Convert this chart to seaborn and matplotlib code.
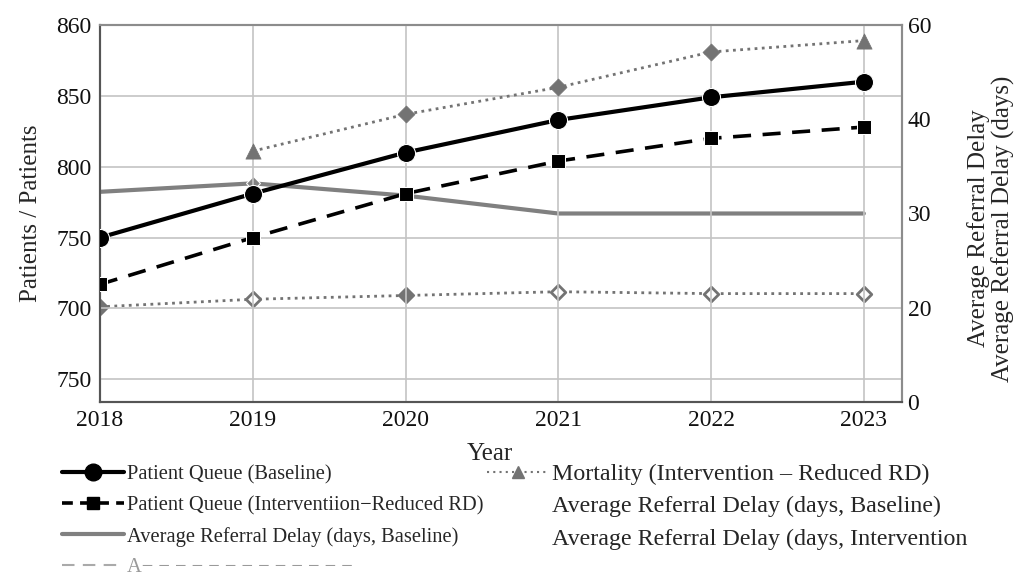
import numpy as np
import pandas as pd
import matplotlib
matplotlib.use("Agg")
import matplotlib.pyplot as plt
from matplotlib.lines import Line2D
import seaborn as sns

# ---- data ----
years = [2018, 2019, 2020, 2021, 2022, 2023]
queue_baseline = [750, 781, 810, 833, 849, 860]
queue_intervention = [717, 750, 781, 804, 820, 828]
mortality_years = [2019, 2020, 2021, 2022, 2023]
mortality_intervention = [811, 837, 856, 881, 889]
delay_baseline = [32.3, 33.2, 31.9, 30.0, 30.0, 30.0]
delay_intervention = [20.1, 20.9, 21.3, 21.7, 21.5, 21.5]

left_tick_values = [650, 700, 750, 800, 850, 900]
left_tick_labels = ["750", "700", "750", "800", "850", "860"]
right_tick_values = [0, 20, 30, 40, 60]
right_tick_labels = ["0", "20", "30", "40", "60"]

# marker styling per point
mortality_markers = ["^", "D", "D", "D", "^"]
delay_int_filled = [True, False, True, False, False, False]

sns.set_style("white")
plt.rcParams["font.family"] = ["Liberation Serif", "DejaVu Serif"]

BLACK = "#000000"
GREY = "#808080"
DOT_GREY = "#737373"
GRID = "#c4c4c4"
FS = 17

fig = plt.figure(figsize=(10.15, 5.75), dpi=100)
ax = fig.add_axes([0.0985, 0.3009, 0.7902, 0.6556])
ax2 = ax.twinx()

# right axis uses evenly spaced, non-uniform tick steps
def fwd(v):
    return np.interp(v, right_tick_values, np.arange(len(right_tick_values)))

def inv(p):
    return np.interp(p, np.arange(len(right_tick_values)), right_tick_values)

ax2.set_yscale("function", functions=(fwd, inv))

# right axis series (drawn underneath)
sns.lineplot(x=years, y=delay_baseline, ax=ax2, color=GREY, lw=3,
             marker="D", markevery=[1], markersize=7, zorder=2)
sns.lineplot(x=years, y=delay_intervention, ax=ax2, color=DOT_GREY, lw=2,
             linestyle=(0, (1, 1.6)), zorder=2)
d_int = pd.DataFrame({"year": years, "val": delay_intervention, "filled": delay_int_filled})
sns.scatterplot(data=d_int[d_int["filled"]], x="year", y="val", ax=ax2, marker="D",
                s=60, color=DOT_GREY, edgecolor=DOT_GREY, linewidth=1.5, zorder=3)
sns.scatterplot(data=d_int[~d_int["filled"]], x="year", y="val", ax=ax2, marker="D",
                s=55, facecolor="white", edgecolor=DOT_GREY, linewidth=2, zorder=3)

# left axis series
sns.lineplot(x=mortality_years, y=mortality_intervention, ax=ax, color=DOT_GREY, lw=2,
             linestyle=(0, (1, 1.6)), zorder=3)
d_mort = pd.DataFrame({"year": mortality_years, "val": mortality_intervention,
                       "m": mortality_markers})
for m in ["^", "D"]:
    sub = d_mort[d_mort["m"] == m]
    sns.scatterplot(data=sub, x="year", y="val", ax=ax, marker=m,
                    s=120 if m == "^" else 75, color=DOT_GREY, edgecolor=DOT_GREY,
                    linewidth=0.5, zorder=4)

sns.lineplot(x=years, y=queue_intervention, ax=ax, color=BLACK, lw=2.6,
             linestyle=(0, (5, 3.2)), marker="s", markersize=10, zorder=5)
sns.lineplot(x=years, y=queue_baseline, ax=ax, color=BLACK, lw=3,
             marker="o", markersize=13, zorder=6)

# left axis on top of right axis
ax.set_zorder(ax2.get_zorder() + 1)
ax.patch.set_visible(False)

ax.set_xlim(2018, 2023.25)
ax.set_ylim(634, 900)
ax.set_xticks(years)
ax.set_xticklabels([str(y) for y in years])
ax.set_yticks(left_tick_values)
ax.set_yticklabels(left_tick_labels)
ax.grid(True, color=GRID, lw=1.2)
ax.tick_params(axis="both", length=0, labelsize=FS, colors="#111111", pad=6)

ax2.set_ylim(0, 60)
ax2.set_yticks(right_tick_values)
ax2.set_yticklabels(right_tick_labels)
ax2.tick_params(axis="y", length=0, labelsize=FS, colors="#111111", pad=4)

for a in (ax, ax2):
    for side in ["top", "right"]:
        a.spines[side].set_color("#8c8c8c")
        a.spines[side].set_linewidth(1.5)
    for side in ["left", "bottom"]:
        a.spines[side].set_color("#555555")
        a.spines[side].set_linewidth(1.5)

ax.set_xlabel("Year", fontsize=18)
ax.xaxis.set_label_coords(0.486, -0.11)
ax.set_ylabel("Patients / Patients", fontsize=18)
ax.yaxis.set_label_coords(-0.072, 0.5)
ax2.set_ylabel("Average Referral Delay\nAverage Referral Delay (days)", fontsize=18,
               linespacing=1.1, rotation=90, ha="center", va="center")
ax2.yaxis.set_label_coords(1.111, 0.46)

handles = [
    Line2D([], [], color=BLACK, lw=3, marker="o", markersize=12),
    Line2D([], [], color=BLACK, lw=2.6, linestyle=(0, (3, 2)), marker="s", markersize=8),
    Line2D([], [], color=GREY, lw=3),
    Line2D([], [], color="#aaaaaa", lw=1.5, linestyle=(0, (6, 4))),
    Line2D([], [], color=DOT_GREY, lw=1.5, linestyle=(0, (1, 2)), marker="^", markersize=8),
    Line2D([], [], linestyle="none"),
    Line2D([], [], linestyle="none"),
]
labels = [
    "Patient Queue (Baseline)",
    "Patient Queue (Interventiion\u2212Reduced RD)",
    "Average Referral Delay (days, Baseline)",
    "A\u2212" + " \u2212" * 12,
    "Mortality (Intervention \u2013 Reduced RD)",
    "Average Referral Delay (days, Baseline)",
    "Average Referral Delay (days, Intervention",
]
leg = fig.legend(handles, labels, ncol=2, loc="upper left", bbox_to_anchor=(0.061, 0.194),
                 frameon=False, fontsize=14.8, handlelength=3.0, handletextpad=0.15,
                 labelspacing=0.55, columnspacing=0.2, borderaxespad=0, borderpad=0)
texts = leg.get_texts()
for t in texts:
    if t.get_text().startswith("A\u2212"):
        t.set_color("#9a9a9a")
# right-hand legend column is set in a larger type
for t in texts[4:]:
    t.set_fontsize(17.3)

fig.savefig("out.png", dpi=100)
